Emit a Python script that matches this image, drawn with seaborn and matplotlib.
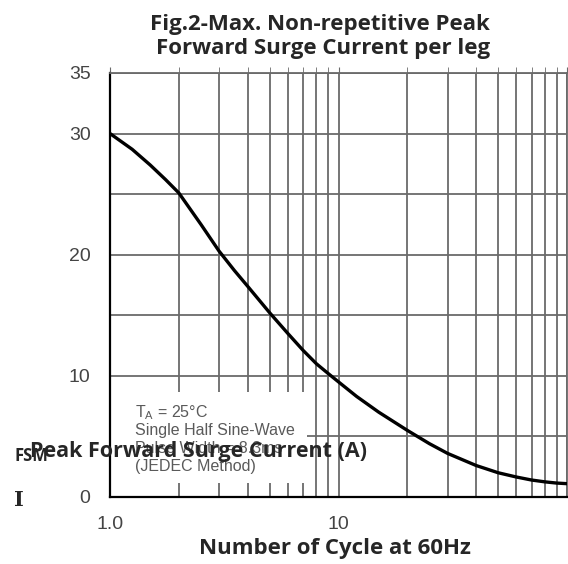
import matplotlib
matplotlib.use('Agg')
import matplotlib.pyplot as plt
import matplotlib.ticker as mticker
import pandas as pd
import seaborn as sns

# values
cycles = [1, 1.25, 1.5, 1.75, 2, 2.5, 3, 3.5, 4, 5, 6, 7, 8, 9, 10, 12, 15, 20, 25, 30, 40, 50, 60, 70, 80, 90, 100]
surge_current = [30, 28.7, 27.4, 26.2, 25.1, 22.5, 20.3, 18.7, 17.4, 15.2, 13.5, 12.1, 11.0, 10.2, 9.5, 8.3, 7.0, 5.5, 4.4, 3.6, 2.6, 2.0, 1.65, 1.4, 1.25, 1.15, 1.1]

y_ticks = [0, 5, 10, 15, 20, 25, 30, 35]
y_labels = ['0', '', '10', '', '20', '', '30', '35']
x_ticks = [1, 10, 100]
x_labels = ['1.0', '10', '']

note_lines = ['T$_\\mathregular{A}$ = 25°C', 'Single Half Sine-Wave', 'Pulse Width = 8.3ms', '(JEDEC Method)']

df = pd.DataFrame({'cycles': cycles, 'current': surge_current})

sns.set_style('white')
plt.rcParams['font.family'] = ['Open Sans', 'DejaVu Sans']

fig = plt.figure(figsize=(5.68, 5.64), dpi=100)
ax = fig.add_axes([0.1937, 0.1188, 0.8046, 0.7518])

ax.set_xscale('log')
ax.set_xlim(1, 100)
ax.set_ylim(0, 35)

ax.xaxis.set_major_locator(mticker.FixedLocator(x_ticks))
ax.xaxis.set_major_formatter(mticker.FixedFormatter(x_labels))
ax.xaxis.set_minor_locator(mticker.LogLocator(base=10, subs=range(2, 10)))
ax.xaxis.set_minor_formatter(mticker.NullFormatter())
ax.set_yticks(y_ticks)
ax.set_yticklabels(y_labels)

ax.set_axisbelow(True)
ax.grid(True, which='both', axis='x', color='#6a6a6a', lw=1.3)
ax.grid(True, which='major', axis='y', color='#6a6a6a', lw=1.3)

# white note box covering the grid in the lower left
ax.add_patch(plt.Rectangle((0.0, 0.033), 0.431, 0.215, transform=ax.transAxes,
                           facecolor='white', edgecolor='none', zorder=1))

sns.lineplot(data=df, x='cycles', y='current', ax=ax, color='black', lw=2.4, zorder=3)

for sp in ['left', 'bottom']:
    ax.spines[sp].set_color('black')
    ax.spines[sp].set_linewidth(1.6)
for sp in ['top', 'right']:
    ax.spines[sp].set_color('#6a6a6a')
    ax.spines[sp].set_linewidth(1.3)

ax.tick_params(axis='y', which='both', length=0, labelsize=14, labelcolor='#444444', pad=14)
ax.tick_params(axis='x', which='both', length=0, labelsize=14, labelcolor='#444444', pad=10)
ax.tick_params(axis='x', which='both', top=True, length=4, color='#6a6a6a', direction='out')
ax.tick_params(axis='x', which='both', bottom=False)
for lab in ax.get_xticklabels() + ax.get_yticklabels():
    lab.set_fontfamily('Liberation Sans')

ax.set_xlabel('')
ax.set_ylabel('')

for i, line in enumerate(note_lines):
    ax.text(0.055, 0.2 - i * 0.043, line, transform=ax.transAxes, fontsize=11.5,
            color='#5a5a5a', family='Liberation Sans', va='center', zorder=4)

fig.text(0.863, 0.976, 'Fig.2-Max. Non-repetitive Peak\nForward Surge Current per leg',
         ha='right', va='top', fontsize=16, fontweight='bold', linespacing=1.2)
fig.text(0.59, 0.027, 'Number of Cycle at 60Hz', ha='center', va='center',
         fontsize=16, fontweight='bold')

# broken y label rendering from the source image
fig.text(0.026, 0.191, 'FSM', ha='left', va='center', fontsize=12, fontweight='bold')
fig.text(0.053, 0.199, 'Peak Forward Surge Current (A)', ha='left', va='center',
         fontsize=15.5, fontweight='bold')
fig.text(0.033, 0.113, 'I', ha='center', va='center', fontsize=15, fontweight='bold',
         family='DejaVu Serif')

plt.savefig('out.png', dpi=100)
